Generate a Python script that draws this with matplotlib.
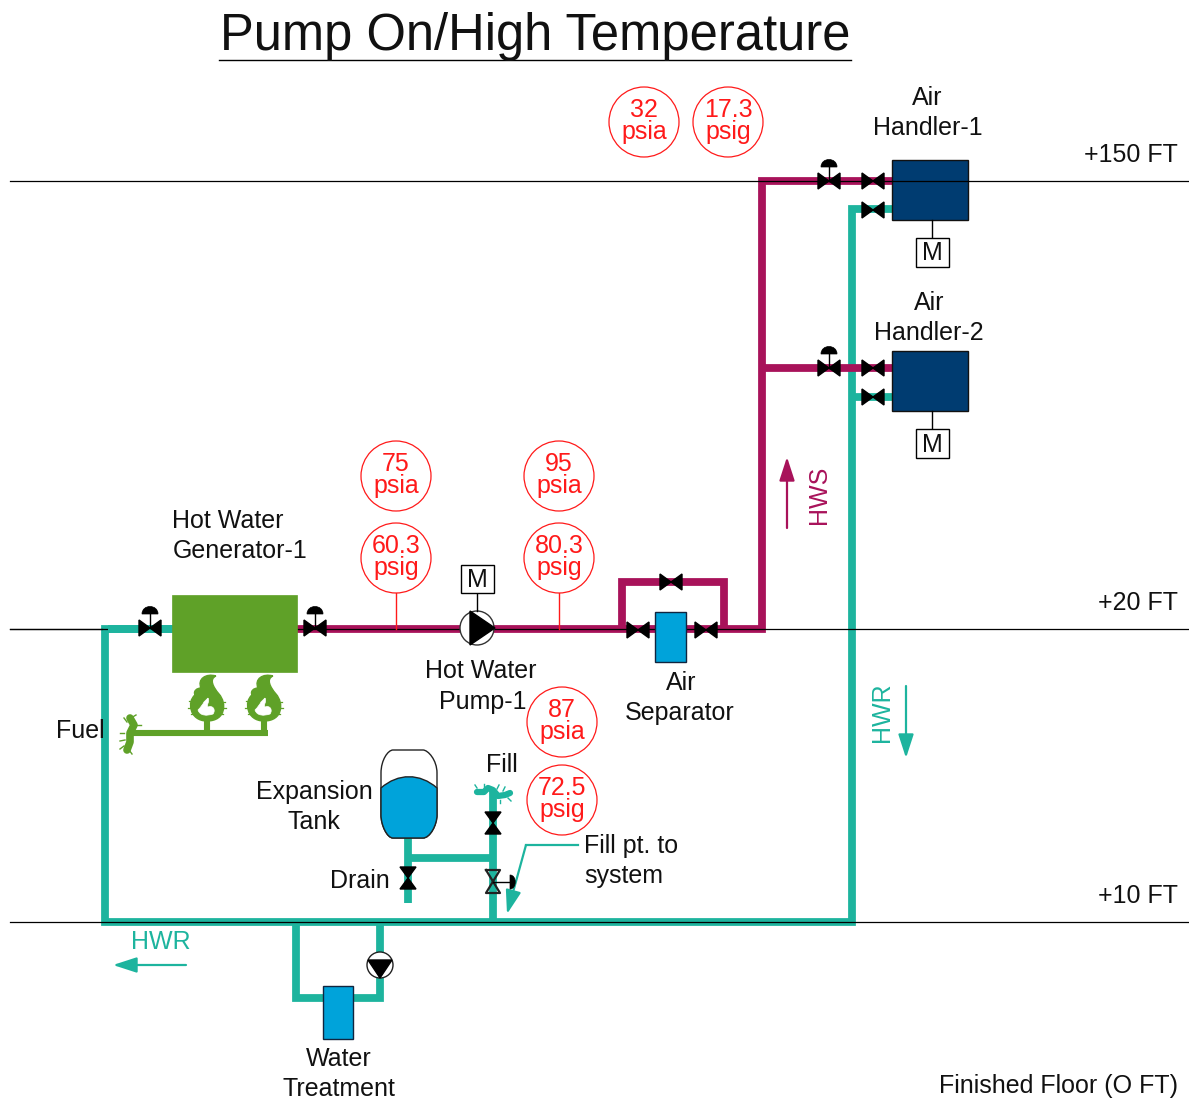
import matplotlib
matplotlib.use('Agg')
import matplotlib.pyplot as plt
from matplotlib.patches import Circle, Rectangle, PathPatch, Polygon, FancyArrowPatch
from matplotlib.path import Path

plt.rcParams['font.family'] = ['Liberation Sans', 'DejaVu Sans']

HWS = '#A8125A'
HWR = '#1DB49E'
GREEN = '#5FA128'
NAVY = '#003C71'
BLUE = '#00A3DA'
RED = '#FF1A1A'

# elevation lines
level_y = [181, 629, 922]
level_labels = ['+150 FT', '+20 FT', '+10 FT']
level_label_y = [155, 603, 896]

# pipe runs, in pixels of the drawing
hwr_runs = [
    [(175, 629), (105, 629), (105, 922), (852, 922), (852, 209), (892, 209)],
    [(852, 397), (892, 397)],
    [(296, 922), (296, 998), (380, 998), (380, 922)],
    [(408, 838), (408, 903)],
    [(408, 858), (493, 858)],
    [(493, 790), (493, 922)],
]
hws_runs = [
    [(297, 629), (762, 629), (762, 181), (892, 181)],
    [(762, 368), (892, 368)],
    [(622, 629), (622, 582), (724, 582), (724, 629)],
]
fuel_runs = [
    [(130, 733), (268, 733)],
    [(207, 716), (207, 733)],
    [(264, 716), (264, 736)],
]

# gauges
gauge_x = [644, 728, 396, 559, 396, 559, 562, 562]
gauge_y = [122, 122, 476, 476, 558, 558, 722, 800]
gauge_val = ['32', '17.3', '75', '95', '60.3', '80.3', '87', '72.5']
gauge_unit = ['psia', 'psig', 'psia', 'psia', 'psig', 'psig', 'psia', 'psig']

# valves: x, y, vertical, actuator
valves = [
    (150, 628, False, True), (315, 628, False, True),
    (829, 181, False, True), (873, 181, False, False), (873, 210, False, False),
    (829, 368, False, True), (873, 368, False, False), (873, 397, False, False),
    (638, 630, False, False), (706, 630, False, False), (671, 582, False, False),
    (493, 823, True, False), (408, 878, True, False),
]

# labels
labels = [
    (927, 98, 'Air'), (928, 128, 'Handler-1'),
    (929, 303, 'Air'), (929, 333, 'Handler-2'),
    (228, 521, 'Hot Water'), (240, 551, 'Generator-1'),
    (481, 671, 'Hot Water'), (483, 702, 'Pump-1'),
    (681, 683, 'Air'), (680, 713, 'Separator'),
    (80, 731, 'Fuel'), (314, 792, 'Expansion'), (314, 822, 'Tank'),
    (360, 881, 'Drain'), (502, 765, 'Fill'),
    (631, 846, 'Fill pt. to'), (624, 876, 'system'),
    (339, 1059, 'Water'), (339, 1089, 'Treatment'),
]

fig = plt.figure(figsize=(11.89, 11.09), dpi=100)
ax = fig.add_axes([0, 0, 1, 1])
ax.set_xlim(0, 1189)
ax.set_ylim(1109, 0)
ax.axis('off')


def pipe(points, color, lw=5.6, z=2):
    xs, ys = zip(*points)
    ax.plot(xs, ys, color=color, lw=lw, solid_joinstyle='miter', solid_capstyle='butt', zorder=z)


def valve(x, y, vertical=False, actuator=False):
    s, t = 11, 8
    if vertical:
        pts = [(x - t, y - s), (x + t, y - s), (x - t, y + s), (x + t, y + s)]
    else:
        pts = [(x - s, y - t), (x + s, y + t), (x + s, y - t), (x - s, y + t)]
    ax.add_patch(Polygon(pts, closed=True, fc='black', ec='black', lw=1, zorder=6))
    if actuator:
        ax.plot([x, x], [y, y - 14], color='black', lw=1, zorder=6)
        top = Path([(x - 8, y - 14), (x - 8, y - 24), (x + 8, y - 24), (x + 8, y - 14), (x - 8, y - 14)],
                   [Path.MOVETO, Path.CURVE4, Path.CURVE4, Path.CURVE4, Path.CLOSEPOLY])
        ax.add_patch(PathPatch(top, fc='black', ec='black', lw=0.5, zorder=6))


def motor(x, y0, y_stem):
    ax.plot([x, x], [y0, y_stem], color='black', lw=1, zorder=6)


def mbox(cx, top, bottom):
    ax.add_patch(Rectangle((cx - 16.5, top), 33, bottom - top, fc='white', ec='black', lw=1, zorder=6))
    ax.text(cx, (top + bottom) / 2 + 1, 'M', ha='center', va='center', fontsize=18, color='#111111', zorder=7)


def flame(cx, top):
    codes = [Path.MOVETO] + [Path.CURVE4] * 15
    outer = [(cx + 9, top + 1), (cx - 1, top - 2), (cx - 10, top + 4), (cx - 6, top + 13),
             (cx - 10, top + 13), (cx - 14, top + 16), (cx - 12, top + 20),
             (cx - 20, top + 26), (cx - 18, top + 46), (cx, top + 46),
             (cx + 19, top + 46), (cx + 20, top + 28), (cx + 12, top + 19),
             (cx + 6, top + 12), (cx + 2, top + 4), (cx + 9, top + 1)]
    ax.add_patch(PathPatch(Path(outer, codes), fc=GREEN, ec=GREEN, lw=1, zorder=4))
    inner = [(cx + 1, top + 23), (cx + 3, top + 27), (cx - 1, top + 30), (cx + 1, top + 32),
             (cx + 6, top + 30), (cx + 9, top + 35), (cx + 6, top + 39), (cx, top + 41),
             (cx - 7, top + 41), (cx - 9, top + 35), (cx - 6, top + 32), (cx - 4, top + 29),
             (cx - 3, top + 27), (cx - 1, top + 25), (cx, top + 24), (cx + 1, top + 23)]
    ax.add_patch(PathPatch(Path(inner, codes), fc='white', ec='white', lw=0.5, zorder=5))
    for dx, dy, ex in [(-14, 26, -18), (-15, 33, -19), (-13, 39, -16), (14, 27, 18), (15, 33, 19), (13, 39, 16)]:
        ax.plot([cx + dx, cx + ex], [top + dy, top + dy], color=GREEN, lw=0.9, zorder=4)


def burst(points, spikes, color, lw=5.5):
    xs, ys = zip(*points)
    ax.plot(xs, ys, color=color, lw=lw, solid_capstyle='round', zorder=4)
    for (x0, y0, x1, y1) in spikes:
        ax.plot([x0, x1], [y0, y1], color=color, lw=1, zorder=4)


# title
ax.text(535, 36.5, 'Pump On/High Temperature', ha='center', va='center', fontsize=36.5, color='#111111')
ax.plot([219, 851], [60, 60], color='black', lw=1)

# teal pipe that sits over the lines comes first where black must show through
for run in hwr_runs:
    pipe(run, HWR, z=2)
for run in hws_runs:
    pipe(run, HWS, z=2.5)
for run in fuel_runs:
    pipe(run, GREEN, lw=4.4, z=3)

for y, lab, ly in zip(level_y, level_labels, level_label_y):
    ax.plot([10, 1188], [y, y], color='black', lw=0.9, zorder=2.7 if y != 181 else 6)
    ax.text(1178, ly, lab, ha='right', va='center', fontsize=18, color='#111111')
ax.plot([108, 176], [629, 629], color=HWR, lw=5.6, solid_capstyle='butt', zorder=2.8)
ax.plot([10, 102], [629, 629], color='black', lw=0.9, zorder=2.9)

# generator and burners
ax.add_patch(Rectangle((172, 595), 125, 77, fc=GREEN, ec=GREEN, lw=0.5, zorder=4))
flame(207, 675)
flame(264, 675)
burst([(130, 718), (134, 725), (130, 733), (130, 742), (127, 750)],
      [(131, 718, 136, 715), (135, 725, 141, 725), (127, 722, 124, 718),
       (124, 733, 120, 733), (125, 740, 120, 741), (124, 746, 120, 749), (129, 750, 132, 754)], GREEN)

# air handlers
for top in [160, 351]:
    ax.add_patch(Rectangle((892, top), 76, 60, fc=NAVY, ec='#111111', lw=1, zorder=4))
    motor(932, top + 60, top + 78)
    mbox(932, top + 78, top + 107)

# air separator and water treatment
ax.add_patch(Rectangle((655, 612), 31, 50, fc=BLUE, ec='#10253F', lw=1, zorder=5))
ax.add_patch(Rectangle((323, 986), 30, 53, fc=BLUE, ec='#10253F', lw=1, zorder=5))

# pumps
ax.add_patch(Circle((477, 628), 17, fc='white', ec='#333333', lw=1, zorder=5))
ax.add_patch(Polygon([(470, 611), (470, 645), (495, 628)], closed=True, fc='black', ec='black', zorder=6))
motor(477, 593, 611)
mbox(477, 565, 593)
ax.add_patch(Circle((380, 965), 13, fc='white', ec='#222222', lw=1, zorder=5))
ax.add_patch(Polygon([(368, 960), (392, 960), (380, 978)], closed=True, fc='black', ec='black', zorder=6))

# expansion tank
tank = Path([(381, 773), (381, 760), (388, 750), (393, 750), (423, 750), (428, 750), (437, 760), (437, 773),
             (437, 815), (437, 825), (430, 838), (423, 838), (393, 838), (387, 838), (381, 825), (381, 815), (381, 773)],
            [Path.MOVETO, Path.CURVE4, Path.CURVE4, Path.CURVE4, Path.LINETO, Path.CURVE4, Path.CURVE4, Path.CURVE4,
             Path.LINETO, Path.CURVE4, Path.CURVE4, Path.CURVE4, Path.LINETO, Path.CURVE4, Path.CURVE4, Path.CURVE4,
             Path.CLOSEPOLY])
ax.add_patch(PathPatch(tank, fc='white', ec='#222222', lw=1, zorder=4))
water = Path([(381, 788), (398, 773), (420, 773), (437, 788), (437, 815), (437, 825), (430, 838), (423, 838),
              (393, 838), (387, 838), (381, 825), (381, 815), (381, 788)],
             [Path.MOVETO, Path.CURVE4, Path.CURVE4, Path.CURVE4, Path.LINETO, Path.CURVE4, Path.CURVE4, Path.CURVE4,
              Path.LINETO, Path.CURVE4, Path.CURVE4, Path.CURVE4, Path.CLOSEPOLY])
ax.add_patch(PathPatch(water, fc=BLUE, ec='#222222', lw=1, zorder=5))

# fill connection
burst([(477, 792), (484, 792), (488, 788), (493, 790), (498, 796), (505, 795), (510, 793)],
      [(477, 788, 475, 785), (484, 788, 484, 784), (497, 789, 499, 785),
       (503, 791, 505, 787), (508, 798, 511, 801), (500, 800, 500, 803)], HWR, lw=4.5)

for x, y, vert, act in valves:
    valve(x, y, vert, act)

# hollow fill valve with side actuator
ax.plot([486, 500, 486, 500, 486], [870, 870, 893, 893, 870], color='#222222', lw=1.6, zorder=6)
ax.plot([493, 510], [882, 882], color='black', lw=1, zorder=6)
side = Path([(510, 875), (517, 875), (517, 889), (510, 889), (510, 875)],
            [Path.MOVETO, Path.CURVE4, Path.CURVE4, Path.CURVE4, Path.CLOSEPOLY])
ax.add_patch(PathPatch(side, fc='black', ec='black', lw=0.5, zorder=6))

# gauges
for x, y, v, u in zip(gauge_x, gauge_y, gauge_val, gauge_unit):
    ax.add_patch(Circle((x, y), 35, fc='white', ec=RED, lw=0.9, zorder=7))
    ax.text(x, y - 12, v, ha='center', va='center', fontsize=18, color=RED, zorder=8)
    ax.text(x, y + 10, u, ha='center', va='center', fontsize=18, color=RED, zorder=8)
ax.plot([396, 396], [593, 629], color=RED, lw=1, zorder=3)
ax.plot([559, 559], [593, 629], color=RED, lw=1, zorder=3)

for x, y, s in labels:
    ax.text(x, y, s, ha='center', va='center', fontsize=18, color='#111111', zorder=8)
ax.text(1178, 1086, 'Finished Floor (O FT)', ha='right', va='center', fontsize=18, color='#111111')

# flow labels and arrows
ax.text(819, 495, 'HWS', rotation=90, ha='center', va='center', fontsize=18, color=HWS)
ax.text(882, 712, 'HWR', rotation=90, ha='center', va='center', fontsize=18, color=HWR)
ax.text(161, 942, 'HWR', ha='center', va='center', fontsize=18, color=HWR)


def arrow(a, b, color, lw=1.6):
    ax.add_patch(FancyArrowPatch(a, b, arrowstyle='-|>,head_length=0.8,head_width=0.26', mutation_scale=18,
                                 color=color, lw=lw, shrinkA=0, shrinkB=0, zorder=5))


arrow((787, 528), (787, 457), HWS)
arrow((906, 686), (906, 758), HWR)
arrow((186, 965), (113, 965), HWR)
ax.plot([578, 526], [845, 845], color=HWR, lw=1.6, zorder=5)
arrow((526, 845), (507, 914), HWR)

fig.savefig('out.png', dpi=100, facecolor='white')
